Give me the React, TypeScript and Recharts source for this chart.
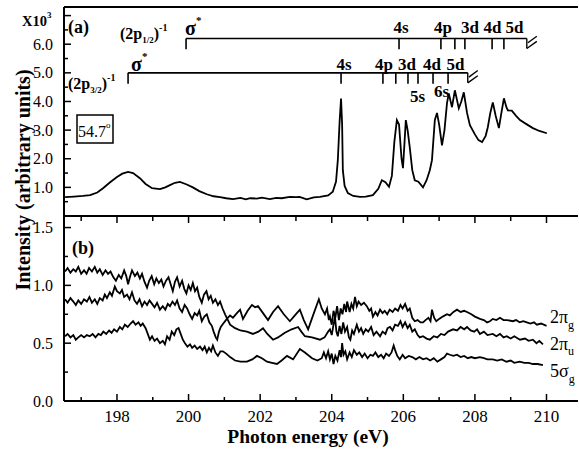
import React from "react";
import { LineChart, Line, XAxis, YAxis, ReferenceLine } from "recharts";

const FONT = "Liberation Serif, DejaVu Serif, serif";

// axis ticks
const X_TICKS = [197, 198, 199, 200, 201, 202, 203, 204, 205, 206, 207, 208, 209, 210];
const TOP_Y_TICKS = [0.5, 1, 1.5, 2, 2.5, 3, 3.5, 4, 4.5, 5, 5.5, 6, 6.5, 7];
const BOT_Y_TICKS = [0, 0.25, 0.5, 0.75, 1, 1.25, 1.5];
const X_DOMAIN = [196.52, 210.88];

// (a) total ion yield at 54.7 deg, units of 10^3  [eV, value]
const spectrum: [number, number][] = [
  [196.55, 0.66], [196.8, 0.68], [197.05, 0.7], [197.25, 0.73], [197.45, 0.82], [197.61, 0.97],
  [197.8, 1.17], [198.0, 1.36], [198.15, 1.48], [198.31, 1.54], [198.45, 1.5], [198.64, 1.32],
  [198.8, 1.12], [198.98, 0.97], [199.2, 0.94], [199.35, 1.0], [199.48, 1.08], [199.62, 1.16],
  [199.76, 1.19], [199.95, 1.1], [200.12, 1.0], [200.3, 0.87], [200.51, 0.76], [200.7, 0.69],
  [200.88, 0.66], [201.05, 0.62], [201.24, 0.59], [201.45, 0.63], [201.6, 0.58], [201.72, 0.62],
  [201.9, 0.61], [202.05, 0.64], [202.27, 0.59], [202.45, 0.63], [202.6, 0.62], [202.83, 0.67],
  [203.0, 0.66], [203.1, 0.67], [203.3, 0.58], [203.5, 0.65], [203.67, 0.67], [203.9, 0.72],
  [204.03, 0.85], [204.12, 1.2], [204.17, 1.95], [204.22, 3.3], [204.26, 4.1], [204.29, 3.2],
  [204.31, 1.6], [204.36, 1.05], [204.45, 0.8], [204.6, 0.7], [204.79, 0.67], [204.95, 0.68],
  [205.15, 0.73], [205.3, 0.95], [205.4, 1.25], [205.5, 1.18], [205.6, 1.02], [205.68, 1.4],
  [205.75, 2.6], [205.82, 3.35], [205.88, 3.2], [205.95, 2.0], [205.99, 1.67], [206.03, 2.5],
  [206.07, 3.35], [206.12, 3.0], [206.18, 2.4], [206.25, 1.6], [206.32, 1.25], [206.42, 1.2],
  [206.55, 1.0], [206.65, 1.25], [206.74, 1.6], [206.8, 1.95], [206.88, 3.35], [206.94, 3.6],
  [207.0, 3.2], [207.08, 2.47], [207.15, 3.0], [207.22, 3.94], [207.27, 4.28], [207.36, 3.8],
  [207.44, 4.39], [207.55, 3.76], [207.62, 4.0], [207.69, 4.32], [207.78, 3.6], [207.86, 3.17],
  [208.0, 2.85], [208.1, 2.65], [208.2, 2.58], [208.3, 2.8], [208.36, 3.1], [208.43, 3.6],
  [208.5, 3.97], [208.58, 3.5], [208.67, 3.07], [208.74, 3.6], [208.81, 4.11], [208.88, 3.8],
  [208.92, 3.69], [209.03, 3.68], [209.15, 3.5], [209.26, 3.35], [209.45, 3.2], [209.62, 3.07],
  [209.8, 2.97], [210.01, 2.89],
];

// (b) ratios
const piG: [number, number][] = [
  [196.55, 0.88], [196.62, 0.85], [196.7, 0.89], [196.78, 0.86], [196.85, 0.83], [196.92, 0.87],
  [197.0, 0.84], [197.08, 0.88], [197.16, 0.86], [197.23, 0.9], [197.3, 0.85], [197.38, 0.88],
  [197.45, 0.84], [197.52, 0.89], [197.6, 0.87], [197.66, 0.92], [197.72, 0.89], [197.8, 0.94],
  [197.86, 0.91], [197.94, 0.99], [198.0, 0.95], [198.08, 0.93], [198.14, 0.96], [198.2, 0.9],
  [198.28, 0.92], [198.35, 0.88], [198.42, 0.94], [198.49, 0.87], [198.56, 0.84], [198.63, 0.88],
  [198.7, 0.82], [198.77, 0.86], [198.84, 0.83], [198.91, 0.87], [198.98, 0.84], [199.05, 0.81],
  [199.12, 0.85], [199.2, 0.79], [199.28, 0.82], [199.35, 0.79], [199.42, 0.84], [199.48, 0.82],
  [199.55, 0.86], [199.62, 0.83], [199.68, 0.87], [199.75, 0.8], [199.82, 0.77], [199.89, 0.83],
  [199.96, 0.8], [200.03, 0.75], [200.1, 0.71], [200.17, 0.76], [200.24, 0.74], [200.3, 0.78],
  [200.37, 0.69], [200.44, 0.73], [200.51, 0.75], [200.58, 0.68], [200.65, 0.65], [200.7, 0.6],
  [200.76, 0.55], [200.8, 0.53], [200.85, 0.6], [200.9, 0.64], [200.97, 0.67], [201.07, 0.71],
  [201.16, 0.74], [201.24, 0.72], [201.35, 0.76], [201.44, 0.79], [201.52, 0.71], [201.65, 0.78],
  [201.77, 0.83], [201.86, 0.81], [201.94, 0.82], [202.08, 0.76], [202.22, 0.7], [202.36, 0.77],
  [202.5, 0.82], [202.66, 0.75], [202.83, 0.69], [202.97, 0.74], [203.11, 0.79], [203.22, 0.7],
  [203.34, 0.62], [203.5, 0.76], [203.64, 0.88], [203.72, 0.8], [203.81, 0.75], [203.87, 0.8],
  [203.92, 0.7], [203.95, 0.73], [204.0, 0.66], [204.05, 0.78], [204.1, 0.72], [204.15, 0.82],
  [204.2, 0.7], [204.25, 0.8], [204.3, 0.75], [204.35, 0.84], [204.4, 0.77], [204.43, 0.86],
  [204.5, 0.77], [204.55, 0.84], [204.6, 0.8], [204.65, 0.9], [204.7, 0.82], [204.75, 0.86],
  [204.82, 0.83], [204.9, 0.85], [204.98, 0.82], [205.05, 0.78], [205.1, 0.8], [205.15, 0.73],
  [205.22, 0.77], [205.28, 0.74], [205.35, 0.79], [205.42, 0.76], [205.48, 0.78], [205.55, 0.75],
  [205.62, 0.79], [205.7, 0.77], [205.77, 0.8], [205.85, 0.78], [205.92, 0.83], [205.98, 0.8],
  [206.05, 0.84], [206.12, 0.78], [206.18, 0.8], [206.25, 0.72], [206.32, 0.69], [206.4, 0.7],
  [206.48, 0.68], [206.55, 0.68], [206.62, 0.7], [206.7, 0.72], [206.76, 0.69], [206.8, 0.79],
  [206.86, 0.72], [206.92, 0.69], [207.0, 0.71], [207.1, 0.73], [207.22, 0.75], [207.3, 0.74],
  [207.4, 0.77], [207.5, 0.79], [207.6, 0.77], [207.7, 0.78], [207.78, 0.77], [207.9, 0.75],
  [208.0, 0.73], [208.14, 0.71], [208.25, 0.7], [208.34, 0.68], [208.42, 0.69], [208.5, 0.71],
  [208.6, 0.7], [208.7, 0.72], [208.8, 0.7], [208.9, 0.7], [209.06, 0.69], [209.15, 0.7],
  [209.25, 0.68], [209.35, 0.69], [209.45, 0.68], [209.55, 0.67], [209.65, 0.68], [209.73, 0.66],
  [209.85, 0.67], [210.0, 0.65],
];

const piU: [number, number][] = [
  [196.55, 1.12], [196.62, 1.15], [196.7, 1.11], [196.78, 1.14], [196.85, 1.12], [196.92, 1.16],
  [197.0, 1.1], [197.08, 1.13], [197.15, 1.1], [197.22, 1.15], [197.3, 1.12], [197.38, 1.16],
  [197.45, 1.11], [197.52, 1.14], [197.6, 1.09], [197.68, 1.13], [197.75, 1.1], [197.82, 1.12],
  [197.9, 1.07], [197.97, 1.04], [198.05, 1.09], [198.12, 1.06], [198.2, 1.13], [198.26, 1.08],
  [198.31, 1.01], [198.36, 1.07], [198.42, 1.13], [198.5, 1.08], [198.57, 1.11], [198.64, 1.06],
  [198.7, 1.1], [198.77, 1.03], [198.84, 0.98], [198.9, 1.04], [198.97, 1.08], [199.04, 1.01],
  [199.1, 1.06], [199.17, 1.02], [199.24, 1.05], [199.3, 0.99], [199.37, 1.04], [199.44, 1.07],
  [199.5, 1.01], [199.56, 0.95], [199.62, 1.03], [199.68, 1.07], [199.75, 0.99], [199.82, 1.04],
  [199.88, 0.97], [199.94, 0.93], [200.0, 1.0], [200.06, 0.96], [200.12, 1.02], [200.18, 0.95],
  [200.24, 0.98], [200.3, 0.9], [200.37, 0.85], [200.43, 0.92], [200.5, 0.95], [200.56, 0.88],
  [200.62, 0.91], [200.68, 0.85], [200.75, 0.88], [200.82, 0.83], [200.88, 0.86], [200.95, 0.8],
  [201.02, 0.75], [201.1, 0.7], [201.16, 0.66], [201.3, 0.63], [201.45, 0.61], [201.63, 0.6],
  [201.8, 0.58], [201.95, 0.6], [202.08, 0.63], [202.2, 0.58], [202.36, 0.53], [202.5, 0.55],
  [202.69, 0.59], [202.88, 0.62], [203.06, 0.64], [203.15, 0.6], [203.25, 0.56], [203.45, 0.55],
  [203.67, 0.53], [203.8, 0.55], [203.9, 0.6], [203.95, 0.62], [204.0, 0.57], [204.05, 0.66],
  [204.09, 0.73], [204.13, 0.6], [204.17, 0.56], [204.22, 0.65], [204.27, 0.58], [204.32, 0.68],
  [204.37, 0.6], [204.43, 0.64], [204.48, 0.55], [204.52, 0.53], [204.57, 0.61], [204.62, 0.58],
  [204.7, 0.66], [204.76, 0.6], [204.82, 0.63], [204.88, 0.58], [204.95, 0.62], [205.02, 0.6],
  [205.1, 0.64], [205.17, 0.57], [205.25, 0.6], [205.35, 0.56], [205.42, 0.6], [205.5, 0.58],
  [205.56, 0.63], [205.63, 0.64], [205.7, 0.61], [205.77, 0.66], [205.85, 0.65], [205.92, 0.69],
  [205.98, 0.64], [206.05, 0.68], [206.12, 0.63], [206.18, 0.66], [206.25, 0.6], [206.32, 0.62],
  [206.4, 0.57], [206.46, 0.55], [206.55, 0.56], [206.65, 0.54], [206.74, 0.53], [206.85, 0.56],
  [206.95, 0.55], [207.05, 0.58], [207.15, 0.57], [207.25, 0.6], [207.39, 0.62], [207.5, 0.61],
  [207.6, 0.64], [207.7, 0.62], [207.78, 0.64], [207.88, 0.61], [207.98, 0.6], [208.06, 0.62],
  [208.14, 0.58], [208.25, 0.6], [208.35, 0.57], [208.5, 0.58], [208.6, 0.56], [208.7, 0.58],
  [208.8, 0.55], [208.89, 0.56], [209.0, 0.54], [209.1, 0.56], [209.26, 0.53], [209.4, 0.54],
  [209.5, 0.52], [209.62, 0.53], [209.72, 0.5], [209.8, 0.52], [209.9, 0.49],
];

const sigmaG: [number, number][] = [
  [196.55, 0.56], [196.62, 0.58], [196.7, 0.55], [196.78, 0.57], [196.85, 0.53], [196.92, 0.55],
  [197.0, 0.57], [197.08, 0.55], [197.16, 0.57], [197.24, 0.56], [197.32, 0.58], [197.4, 0.55],
  [197.48, 0.58], [197.55, 0.57], [197.62, 0.6], [197.7, 0.58], [197.78, 0.61], [197.85, 0.59],
  [197.92, 0.62], [198.0, 0.6], [198.08, 0.64], [198.15, 0.62], [198.22, 0.66], [198.3, 0.64],
  [198.38, 0.67], [198.45, 0.69], [198.52, 0.66], [198.6, 0.68], [198.66, 0.65], [198.72, 0.67],
  [198.8, 0.63], [198.86, 0.58], [198.92, 0.53], [198.98, 0.56], [199.05, 0.52], [199.12, 0.54],
  [199.2, 0.5], [199.28, 0.52], [199.34, 0.49], [199.4, 0.56], [199.47, 0.53], [199.53, 0.6],
  [199.6, 0.57], [199.66, 0.62], [199.72, 0.63], [199.78, 0.58], [199.84, 0.53], [199.9, 0.5],
  [199.97, 0.47], [200.04, 0.49], [200.1, 0.46], [200.17, 0.48], [200.24, 0.45], [200.32, 0.47],
  [200.39, 0.44], [200.45, 0.47], [200.51, 0.42], [200.57, 0.46], [200.63, 0.43], [200.68, 0.48],
  [200.75, 0.42], [200.82, 0.39], [200.89, 0.43], [200.96, 0.43], [201.05, 0.41], [201.16, 0.38],
  [201.3, 0.35], [201.45, 0.34], [201.63, 0.34], [201.78, 0.36], [201.91, 0.39], [202.05, 0.37],
  [202.19, 0.34], [202.33, 0.33], [202.47, 0.32], [202.6, 0.35], [202.75, 0.39], [202.92, 0.36],
  [203.11, 0.45], [203.25, 0.42], [203.45, 0.37], [203.6, 0.35], [203.72, 0.37], [203.78, 0.42],
  [203.84, 0.37], [203.9, 0.43], [203.95, 0.36], [204.0, 0.41], [204.05, 0.32], [204.1, 0.39],
  [204.16, 0.35], [204.22, 0.44], [204.26, 0.38], [204.29, 0.5], [204.33, 0.4], [204.38, 0.43],
  [204.43, 0.36], [204.5, 0.42], [204.56, 0.38], [204.62, 0.44], [204.7, 0.4], [204.77, 0.42],
  [204.85, 0.38], [204.92, 0.41], [205.0, 0.37], [205.08, 0.4], [205.15, 0.39], [205.22, 0.42],
  [205.3, 0.38], [205.38, 0.4], [205.45, 0.37], [205.52, 0.41], [205.6, 0.39], [205.67, 0.42],
  [205.73, 0.48], [205.77, 0.44], [205.83, 0.39], [205.9, 0.36], [205.98, 0.4], [206.05, 0.37],
  [206.15, 0.39], [206.25, 0.38], [206.35, 0.36], [206.45, 0.38], [206.55, 0.36], [206.65, 0.37],
  [206.75, 0.35], [206.85, 0.37], [206.95, 0.34], [207.05, 0.36], [207.15, 0.38], [207.22, 0.41],
  [207.3, 0.4], [207.4, 0.39], [207.5, 0.4], [207.6, 0.38], [207.7, 0.39], [207.8, 0.37],
  [207.9, 0.38], [208.0, 0.37], [208.14, 0.38], [208.25, 0.37], [208.35, 0.36], [208.5, 0.36],
  [208.62, 0.35], [208.75, 0.36], [208.88, 0.34], [209.0, 0.35], [209.1, 0.33], [209.25, 0.34],
  [209.38, 0.33], [209.5, 0.33], [209.62, 0.32], [209.75, 0.32], [209.9, 0.31],
];

// Rydberg ladders (eV)
const HI_LEVEL = 6.2;
const HI_START = 199.93;
const HI_END = 209.45;
const HI_TICKS = [199.93, 205.88, 207.05, 207.44, 207.72, 208.48, 208.81];
const LO_LEVEL = 5.0;
const LO_START = 198.31;
const LO_END = 207.8;
const LO_TICKS = [198.31, 204.26, 205.43, 205.79, 206.13, 206.41, 206.83, 207.25];
const TICK_LEN = 0.38;

const toRows = (arr: [number, number][]) => arr.map(([e, v]) => ({ e, v }));

const txt = { fontFamily: FONT, fill: "#000" };

const XTickTop = (p: any) => {
  const major = p.payload.value % 2 === 0;
  return <line x1={p.x} x2={p.x} y1={p.y} y2={p.y + (major ? 7 : 5)} stroke="#000" strokeWidth={1.5} />;
};

const XTickBottom = (p: any) => {
  const v = p.payload.value;
  const major = v % 2 === 0;
  return (
    <g>
      <line x1={p.x} x2={p.x} y1={p.y} y2={p.y - (major ? 7 : 4)} stroke="#000" strokeWidth={1.5} />
      {major && (
        <text x={p.x} y={p.y + 21} textAnchor="middle" fontSize={17} style={txt}>
          {v}
        </text>
      )}
    </g>
  );
};

const YTickTop = (p: any) => {
  const v = p.payload.value;
  const major = Number.isInteger(v);
  return (
    <g>
      <line x1={p.x} x2={p.x + (major ? 7 : 4)} y1={p.y} y2={p.y} stroke="#000" strokeWidth={1.5} />
      {major && v <= 6 && (
        <text x={p.x - 11} y={p.y + 5.5} textAnchor="end" fontSize={16} style={txt}>
          {v.toFixed(1)}
        </text>
      )}
    </g>
  );
};

const YTickBottom = (p: any) => {
  const v = p.payload.value;
  const major = Number.isInteger(v * 2);
  return (
    <g>
      <line x1={p.x} x2={p.x + (major ? 7 : 4)} y1={p.y} y2={p.y} stroke="#000" strokeWidth={1.5} />
      {major && (
        <text x={p.x - 11} y={p.y + 5.5} textAnchor="end" fontSize={16} style={txt}>
          {v.toFixed(1)}
        </text>
      )}
    </g>
  );
};

const axisLine = { stroke: "#000", strokeWidth: 2 };

const ladder = (level: number, start: number, end: number, ticks: number[], key: string) => [
  <ReferenceLine key={key + "h"} segment={[{ x: start, y: level }, { x: end, y: level }]} stroke="#000" strokeWidth={1.6} />,
  ...ticks.map((t, i) => (
    <ReferenceLine
      key={key + i}
      segment={[{ x: t, y: level }, { x: t, y: level - TICK_LEN }]}
      stroke="#000"
      strokeWidth={1.6}
    />
  )),
  <ReferenceLine key={key + "b0"} segment={[{ x: end, y: level }, { x: end, y: level - 0.35 }]} stroke="#000" strokeWidth={1.4} />,
  <ReferenceLine key={key + "b1"} segment={[{ x: end, y: level - 0.35 }, { x: end + 0.28, y: level - 0.1 }]} stroke="#000" strokeWidth={1.4} />,
  <ReferenceLine key={key + "b2"} segment={[{ x: end + 0.03, y: level - 0.15 }, { x: end + 0.28, y: level + 0.08 }]} stroke="#000" strokeWidth={1.4} />,
];

const Overlay = () => {
  const bold = { fontFamily: FONT, fontWeight: 700, fill: "#000" };
  return (
    <svg width={579} height={449} style={{ position: "absolute", left: 0, top: 0, pointerEvents: "none" }}>
      <text x={22} y={26} fontSize={14.5} style={bold}>
        X10<tspan fontSize={9} dy={-8}>3</tspan>
      </text>
      <text x={68} y={33} fontSize={18} style={bold}>(a)</text>
      <text x={72} y={254} fontSize={18} style={bold}>(b)</text>

      <text x={120} y={39} fontSize={16} style={bold}>
        (2p<tspan fontSize={9} dy={4}>1/2</tspan><tspan dy={-4}>)</tspan>
        <tspan fontSize={10} dy={-8}>-1</tspan>
      </text>
      <text x={185} y={35} fontSize={20} style={bold}>
        σ<tspan fontSize={11} dy={-11}>*</tspan>
      </text>
      <text x={68} y={89} fontSize={16} style={bold}>
        (2p<tspan fontSize={9} dy={4}>3/2</tspan><tspan dy={-4}>)</tspan>
        <tspan fontSize={10} dy={-8}>-1</tspan>
      </text>
      <text x={131} y={71} fontSize={20} style={bold}>
        σ<tspan fontSize={11} dy={-11}>*</tspan>
      </text>

      <g textAnchor="middle" fontSize={17} style={bold}>
        <text x={401} y={33}>4s</text>
        <text x={443} y={33}>4p</text>
        <text x={470} y={33}>3d</text>
        <text x={492.5} y={33}>4d</text>
        <text x={514.5} y={33}>5d</text>
        <text x={344} y={70}>4s</text>
        <text x={384} y={70}>4p</text>
        <text x={407} y={70}>3d</text>
        <text x={432} y={70}>4d</text>
        <text x={455.5} y={70}>5d</text>
        <text x={417.5} y={102}>5s</text>
        <text x={441.5} y={97}>6s</text>
      </g>

      <rect x={77} y={115} width={36} height={28} fill="none" stroke="#000" strokeWidth={1.5} />
      <text x={78} y={137} fontSize={16} style={txt}>
        54.7<tspan fontSize={9} dy={-9}>o</tspan>
      </text>

      <text x={550} y={323} fontSize={18} style={txt}>
        2π<tspan fontSize={12} dy={6}>g</tspan>
      </text>
      <text x={550} y={350} fontSize={18} style={txt}>
        2π<tspan fontSize={12} dy={5}>u</tspan>
      </text>
      <text x={550} y={377} fontSize={18} style={txt}>
        5σ<tspan fontSize={12} dy={6}>g</tspan>
      </text>

      <text x={30} y={180} transform="rotate(-90 30 180)" textAnchor="middle" fontSize={20} style={bold}>
        Intensity (arbitrary units)
      </text>
      <text x={308} y={443} textAnchor="middle" fontSize={19.5} style={bold}>
        Photon energy (eV)
      </text>
    </svg>
  );
};

export default function App() {
  return (
    <div style={{ position: "absolute", left: 0, top: 0, width: 579, height: 449, background: "#fff", fontFamily: FONT }}>
      <div style={{ position: "absolute", left: 0, top: 0 }}>
        <LineChart width={579} height={230} margin={{ top: 7, right: 1, bottom: 0, left: 0 }}>
          <XAxis
            dataKey="e"
            type="number"
            domain={X_DOMAIN}
            allowDataOverflow
            ticks={X_TICKS}
            interval={0}
            height={14}
            tickSize={0}
            tickMargin={0}
            tickLine={false}
            axisLine={axisLine}
            tick={(p: any) => <XTickTop {...p} />}
          />
          <YAxis
            type="number"
            domain={[0, 7.3]}
            allowDataOverflow
            ticks={TOP_Y_TICKS}
            interval={0}
            width={64}
            tickSize={0}
            tickMargin={0}
            tickLine={false}
            axisLine={axisLine}
            tick={(p: any) => <YTickTop {...p} />}
          />
          <ReferenceLine y={7.3} stroke="#000" strokeWidth={2} />
          {ladder(HI_LEVEL, HI_START, HI_END, HI_TICKS, "hi")}
          {ladder(LO_LEVEL, LO_START, LO_END, LO_TICKS, "lo")}
          <Line
            data={toRows(spectrum)}
            dataKey="v"
            type="linear"
            dot={false}
            stroke="#000"
            strokeWidth={1.8}
            isAnimationActive={false}
          />
        </LineChart>
      </div>
      <div style={{ position: "absolute", left: 0, top: 216 }}>
        <LineChart width={579} height={233} margin={{ top: 0, right: 1, bottom: 0, left: 0 }}>
          <XAxis
            dataKey="e"
            type="number"
            domain={X_DOMAIN}
            allowDataOverflow
            ticks={X_TICKS}
            interval={0}
            height={48}
            tickSize={0}
            tickMargin={0}
            tickLine={false}
            axisLine={axisLine}
            tick={(p: any) => <XTickBottom {...p} />}
          />
          <YAxis
            type="number"
            domain={[0, 1.6]}
            allowDataOverflow
            ticks={BOT_Y_TICKS}
            interval={0}
            width={64}
            tickSize={0}
            tickMargin={0}
            tickLine={false}
            axisLine={axisLine}
            tick={(p: any) => <YTickBottom {...p} />}
          />
          <Line data={toRows(piG)} dataKey="v" type="linear" dot={false} stroke="#000" strokeWidth={1.8} isAnimationActive={false} />
          <Line data={toRows(piU)} dataKey="v" type="linear" dot={false} stroke="#000" strokeWidth={1.8} isAnimationActive={false} />
          <Line data={toRows(sigmaG)} dataKey="v" type="linear" dot={false} stroke="#000" strokeWidth={1.8} isAnimationActive={false} />
        </LineChart>
      </div>
      <Overlay />
    </div>
  );
}
